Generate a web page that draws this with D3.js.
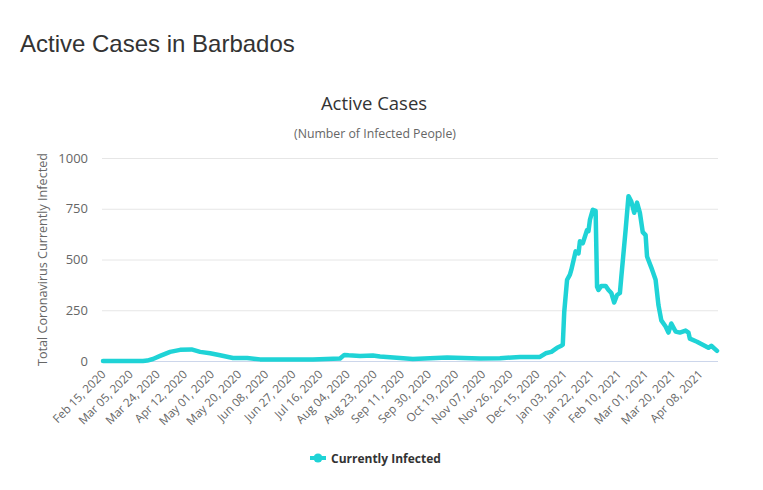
<!DOCTYPE html>
<html><head><meta charset="utf-8">
<script src="https://cdn.jsdelivr.net/npm/d3@7"></script>
<style>body{margin:0;background:#fff;}svg{display:block;}</style>
</head><body>
<svg id="c" width="763" height="490"></svg>
<script>
const dates = ["2020-02-15","2020-03-14","2020-03-17","2020-03-21","2020-03-26","2020-04-02","2020-04-09","2020-04-17","2020-04-23","2020-04-30","2020-05-07","2020-05-16","2020-05-26","2020-06-04","2020-06-27","2020-07-11","2020-07-30","2020-08-02","2020-08-05","2020-08-13","2020-08-22","2020-08-27","2020-09-10","2020-09-19","2020-10-13","2020-11-05","2020-11-19","2020-12-03","2020-12-17","2020-12-21","2020-12-25","2020-12-29","2021-01-01","2021-01-02","2021-01-03","2021-01-05","2021-01-07","2021-01-08","2021-01-11","2021-01-13","2021-01-14","2021-01-16","2021-01-19","2021-01-20","2021-01-21","2021-01-23","2021-01-25","2021-01-26","2021-01-27","2021-01-29","2021-02-01","2021-02-03","2021-02-05","2021-02-07","2021-02-09","2021-02-11","2021-02-12","2021-02-15","2021-02-17","2021-02-19","2021-02-21","2021-02-23","2021-02-25","2021-02-27","2021-03-01","2021-03-02","2021-03-05","2021-03-08","2021-03-10","2021-03-12","2021-03-15","2021-03-17","2021-03-19","2021-03-22","2021-03-25","2021-03-29","2021-03-31","2021-04-01","2021-04-06","2021-04-10","2021-04-14","2021-04-16","2021-04-20"];
const currentlyInfected = [0,0,2,10,25,45,55,57,45,38,28,15,15,8,8,8,12,30,28,25,27,22,15,10,17,12,14,20,20,38,45,65,75,80,240,400,425,450,540,530,590,580,645,640,695,745,740,365,350,370,370,350,335,288,325,335,415,645,812,785,730,780,730,635,620,515,460,400,275,200,170,140,185,145,140,150,140,110,95,80,65,75,50];
const tickLabels = ["Feb 15, 2020","Mar 05, 2020","Mar 24, 2020","Apr 12, 2020","May 01, 2020","May 20, 2020","Jun 08, 2020","Jun 27, 2020","Jul 16, 2020","Aug 04, 2020","Aug 23, 2020","Sep 11, 2020","Sep 30, 2020","Oct 19, 2020","Nov 07, 2020","Nov 26, 2020","Dec 15, 2020","Jan 03, 2021","Jan 22, 2021","Feb 10, 2021","Mar 01, 2021","Mar 20, 2021","Apr 08, 2021"];
const yTicks = [0,250,500,750,1000];

const parse = d3.utcParse("%Y-%m-%d");
const fmt = d3.utcFormat("%b %d, %Y");
const data = dates.map((d,i)=>({date:parse(d), v:currentlyInfected[i]}));
const tickDates = tickLabels.map(t=>d3.utcParse("%b %d, %Y")(t));

const svg = d3.select("#c");
const pL=102, pR=718, pT=158, pB=361;
const x = d3.scaleUtc().domain([parse("2020-02-15"), parse("2021-04-20")]).range([pL+1, pR-1]);
const y = d3.scaleLinear().domain([0,1000]).range([pB, pT]);

svg.append("text").attr("x",20).attr("y",52).attr("font-family","Liberation Sans, Arial, sans-serif")
  .attr("font-size",24).attr("fill","#333").text("Active Cases in Barbados");
svg.append("text").attr("x",374).attr("y",110).attr("text-anchor","middle").attr("font-family","Open Sans, sans-serif")
  .attr("font-size",18.5).attr("fill","#333").text("Active Cases");
svg.append("text").attr("x",375).attr("y",138).attr("text-anchor","middle").attr("font-family","Open Sans, sans-serif")
  .attr("font-size",12.3).attr("fill","#666").text("(Number of Infected People)");

const yAxis = d3.axisLeft(y).tickValues(yTicks).tickSize(-(pR-pL)).tickPadding(14).tickFormat(d3.format("d"));
const gy = svg.append("g").attr("transform",`translate(${pL},0)`).call(yAxis);
gy.select(".domain").remove();
gy.selectAll(".tick line").attr("stroke","#e6e6e6");
gy.selectAll(".tick").filter(d=>d===0).select("line").attr("stroke","#ccd6eb");
gy.selectAll(".tick text").attr("font-family","Open Sans, sans-serif").attr("font-size",13).attr("fill","#666");

svg.append("text").attr("transform",`translate(47,${(pT+pB)/2}) rotate(-90)`).attr("text-anchor","middle")
  .attr("font-family","Open Sans, sans-serif").attr("font-size",12.6).attr("fill","#666").text("Total Coronavirus Currently Infected");

const xAxis = d3.axisBottom(x).tickValues(tickDates).tickSize(0).tickFormat(d=>fmt(d));
const gx = svg.append("g").attr("transform",`translate(0,${pB})`).call(xAxis);
gx.select(".domain").remove();
gx.selectAll(".tick text").attr("font-family","Open Sans, sans-serif").attr("font-size",11.7).attr("fill","#666")
  .attr("text-anchor","end").attr("dy",0).attr("y",0)
  .attr("transform","translate(3,14) rotate(-45)");

const line = d3.line().x(d=>x(d.date)).y(d=>y(d.v)).curve(d3.curveLinear);
svg.append("path").datum(data).attr("d",line).attr("fill","none").attr("stroke","#1fd3d6")
  .attr("stroke-width",4.5).attr("stroke-linejoin","round").attr("stroke-linecap","round");

const lg = svg.append("g").attr("transform","translate(310,458)");
lg.append("line").attr("x1",0).attr("x2",16).attr("y1",0).attr("y2",0).attr("stroke","#1fd3d6").attr("stroke-width",4);
lg.append("circle").attr("cx",8).attr("cy",0).attr("r",4.5).attr("fill","#1fd3d6");
lg.append("text").attr("x",21).attr("y",4.5).attr("font-family","Open Sans, sans-serif").attr("font-weight","bold")
  .attr("font-size",12).attr("fill","#333").text("Currently Infected");
</script>
</body></html>
